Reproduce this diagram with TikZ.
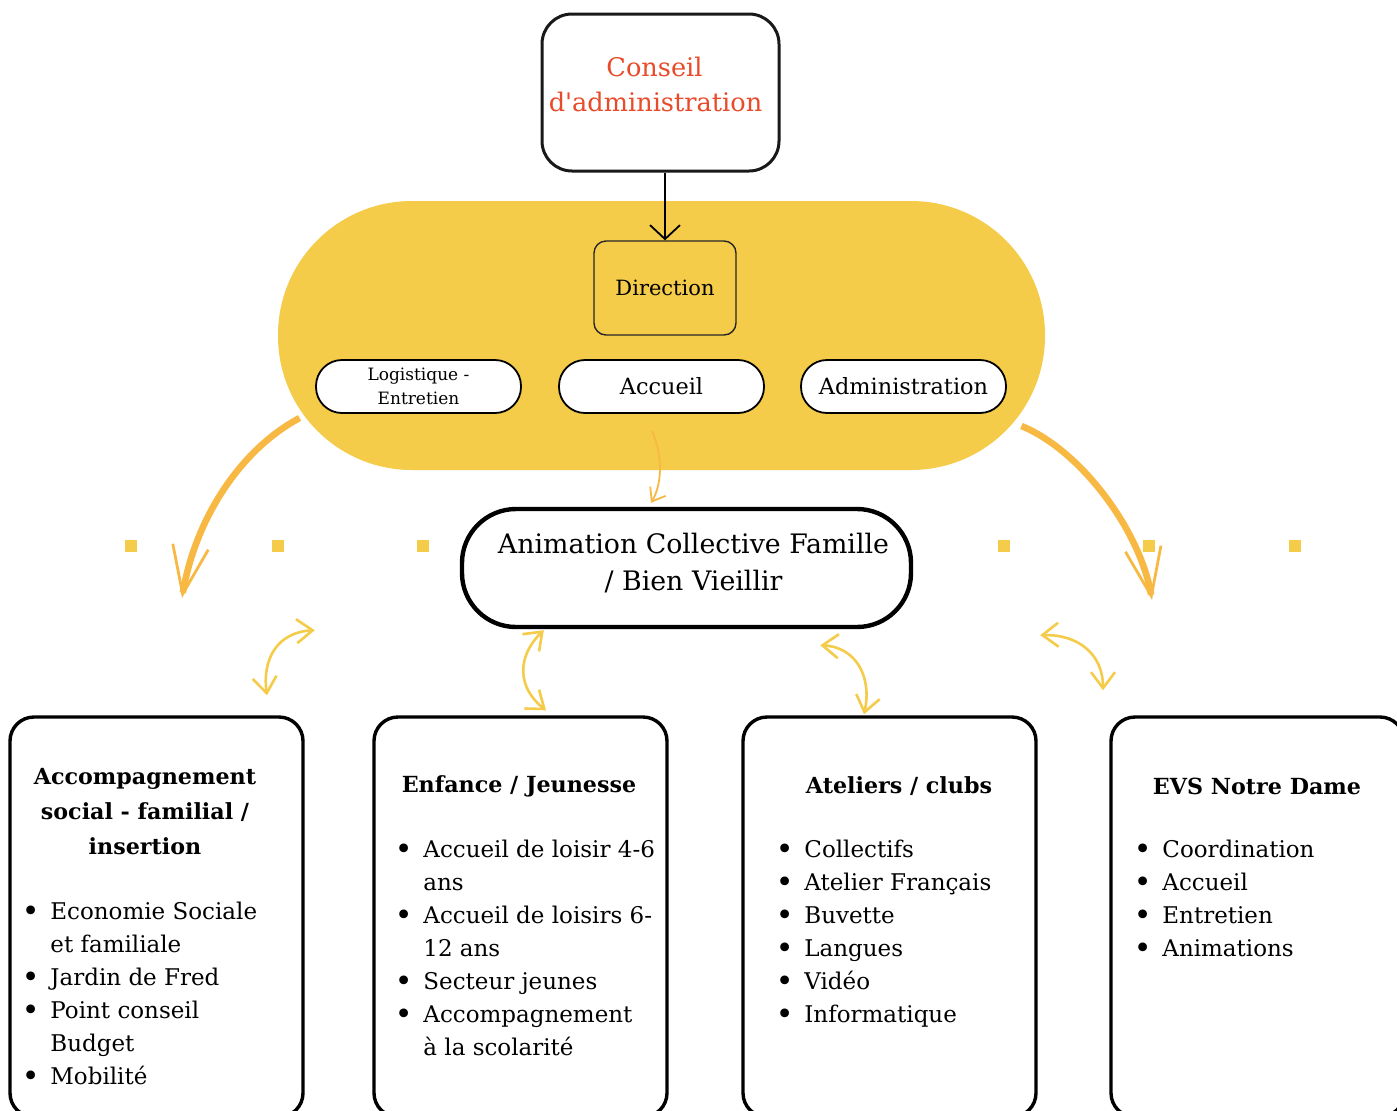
\documentclass[tikz,border=0pt]{standalone}
\usepackage{fontspec}
\setmainfont{DejaVu Serif}
\newfontfamily\droit{DejaVu Serif}
\definecolor{jaune}{RGB}{245, 203, 74}
\definecolor{orangefl}{RGB}{247, 185, 68}
\definecolor{rouge}{RGB}{232, 74, 42}
\usetikzlibrary{arrows.meta, positioning, calc}
\newcommand{\puce}{\makebox[11.5pt][l]{\hspace{-2.8pt}\raisebox{-0.6pt}{\fontsize{15}{15}\selectfont\textbullet}}}
\newcommand{\suite}{\hspace*{11.5pt}}

\begin{document}
\begin{tikzpicture}[x=0.5pt, y=-0.5pt,
  boite/.style={draw=black, line width=1.7pt, rounded corners=12pt, fill=white, minimum width=146.5pt, minimum height=200pt},
  pilule/.style={draw=black, line width=0.9pt, rounded corners=13pt, fill=white, minimum width=102.5pt, minimum height=26.5pt, inner sep=0pt, align=center},
  fleche/.style={jaune, line width=1.3pt, {Straight Barb[length=8pt, width=12pt]}-{Straight Barb[length=8pt, width=12pt]}},
  grosse/.style={orangefl, line width=3.3pt, -{Straight Barb[length=24pt, width=18pt, line width'=1.4pt]}},
  carre/.style={fill=jaune, minimum size=6pt, inner sep=0pt},
  titre/.style={font=\bfseries\fontsize{11.1}{17.5}\selectfont, align=center},
  liste/.style={font=\fontsize{11.5}{16.5}\selectfont, align=left, anchor=north west, inner sep=0pt}]
  \useasboundingbox (0,0) rectangle (1397,1110);
  \clip (0,0) rectangle (1397,1110);

  % Conseil et pole central
  \node[draw=black!90, line width=1.5pt, rounded corners=15pt, fill=white, minimum width=118.5pt, minimum height=78.5pt, text=rouge, align=center, text depth=8pt, font=\fontsize{12.8}{17.5}\selectfont] (conseil) at (660.5, 92.5) {Conseil\hspace*{6pt}\\d{\droit'}administration\hspace*{5pt}};
  \node[fill=jaune, rounded corners=67pt, minimum width=383.5pt, minimum height=134.5pt] (pole) at (661.5, 335.5) {};
  \node[draw=black!85, line width=0.7pt, rounded corners=6pt, fill=jaune, minimum width=71pt, minimum height=47pt, font=\fontsize{10.5}{13}\selectfont] (direction) at (665, 288) {Direction};
  \draw[line width=0.9pt, -{Straight Barb[length=7pt, width=15pt]}] (conseil.south -| direction.north) -- (direction.north);

  \node[pilule, font=\fontsize{8.5}{12}\selectfont] (logist) at (418.5, 386.5) {Logistique -\\Entretien};
  \node[pilule, font=\fontsize{11.2}{14}\selectfont] (accueil) at (661.5, 386.5) {Accueil};
  \node[pilule, font=\fontsize{11.2}{14}\selectfont] (admin) at (903.5, 386.5) {Administration};

  % Animation collective
  \node[draw=black, line width=2.2pt, rounded corners=27pt, fill=white, minimum width=224.5pt, minimum height=59pt, align=center, text depth=6pt, font=\fontsize{13.4}{18.5}\selectfont] (acf) at (686.5, 568) {\hspace*{7pt}Animation Collective Famille\\\hspace*{7pt}/ Bien Vieillir};
  \draw[orangefl, line width=0.9pt, -{Straight Barb[length=6pt, width=9pt]}] ([shift={(-9.5,17)}]accueil.south) .. controls +(13,30) and +(9,-15) .. ([shift={(-35.5,-4)}]acf.north);

  \foreach \x in {131, 278, 423, 1004, 1149, 1295}
    \node[carre] (c\x) at (\x, 546) {};

  % Grosses fleches
  \coordinate (finG) at (182, 598);
  \coordinate (finD) at (1152, 600);
  \draw[grosse] ([shift={(22,82.5)}]pole.west) .. controls +(-60,32) and +(13,-78) .. (finG);
  \draw[grosse] ([shift={(-24,90.5)}]pole.east) .. controls +(59,24) and +(-12,-70) .. (finD);

  % Poles du bas
  \node[boite] (accomp) at (156.5, 917) {};
  \node[boite] (enfance) at (520.5, 917) {};
  \node[boite] (ateliers) at (889.5, 917) {};
  \node[boite] (evs) at (1257.5, 917) {};

  \draw[fleche] ([shift={(-145,1)}]acf.south west) .. controls +(-37,2) and +(-5,-37) .. ([shift={(110.5,-20)}]accomp.north);
  \draw[fleche] ([shift={(84,1)}]acf.south west) .. controls +(-28,27) and +(-28,-22) .. ([shift={(25.5,-5)}]enfance.north);
  \draw[fleche] ([shift={(-93,16)}]acf.south east) .. controls +(37,2) and +(8,-36) .. ([shift={(-25.5,-1)}]ateliers.north);
  \draw[fleche] ([shift={(127,6)}]acf.south east) .. controls +(37,-1) and +(0,-37) .. ([shift={(-154.5,-25)}]evs.north);

  \node[titre] (t-accomp) at (145, 812) {Accompagnement\\social - familial /\\insertion};
  \node[liste] (l-accomp) at (27, 902) {\puce Economie Sociale\\\suite et familiale\\\puce Jardin de Fred\\\puce Point conseil\\\suite Budget\\\puce Mobilité};

  \node[titre] (t-enfance) at (519, 786) {Enfance / Jeunesse};
  \node[liste] (l-enfance) at (400, 840) {\puce Accueil de loisir 4-6\\\suite ans\\\puce Accueil de loisirs 6-\\\suite 12 ans\\\puce Secteur jeunes\\\puce Accompagnement\\\suite à la scolarité};

  \node[titre] (t-ateliers) at (899, 786) {Ateliers / clubs};
  \node[liste] (l-ateliers) at (781, 840) {\puce Collectifs\\\puce Atelier Français\\\puce Buvette\\\puce Langues\\\puce Vidéo\\\puce Informatique};

  \node[titre] (t-evs) at (1257, 786) {EVS Notre Dame};
  \node[liste] (l-evs) at (1139, 840) {\puce Coordination\\\puce Accueil\\\puce Entretien\\\puce Animations};
\end{tikzpicture}
\end{document}
